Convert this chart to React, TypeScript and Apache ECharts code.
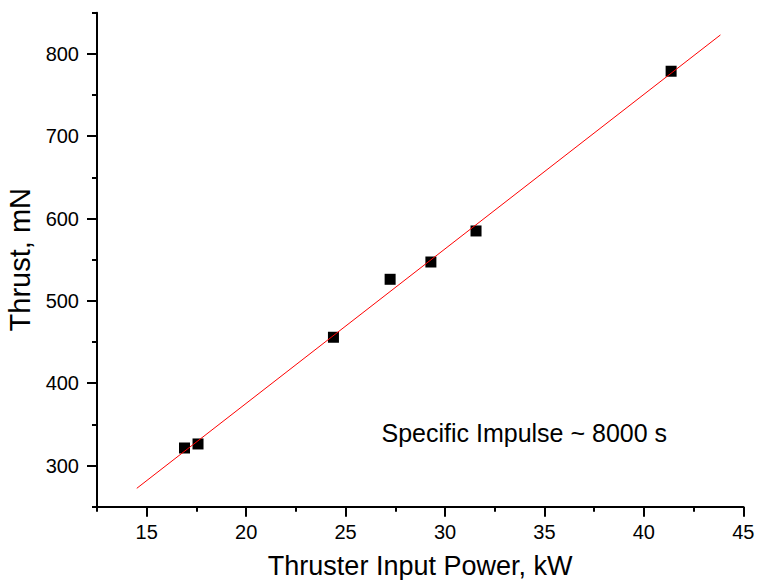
import React, { useEffect, useRef } from "react";
import * as echarts from "echarts";

const powerKW = [16.9, 17.58, 24.39, 27.24, 29.29, 31.56, 41.37];
const thrustMN = [321.3, 326.2, 455.8, 526.2, 547.2, 584.9, 778.9];
const fitX = [14.5, 43.85];
const fitY = [272.3, 823.0];
const xMajorTicks = [15, 20, 25, 30, 35, 40, 45];
const xMinorTicks = [12.5, 17.5, 22.5, 27.5, 32.5, 37.5, 42.5];
const yMajorTicks = [300, 400, 500, 600, 700, 800];
const yMinorTicks = [250, 350, 450, 550, 650, 750, 850];
const xTitle = "Thruster Input Power, kW";
const yTitle = "Thrust, mN";
const annotation = "Specific Impulse ~ 8000 s";

const FONT = "'Liberation Sans', Arial, sans-serif";

export default function App() {
  const ref = useRef<HTMLDivElement>(null);
  useEffect(() => {
    document.body.style.margin = "0";
    if (!ref.current) return;
    const chart = echarts.init(ref.current, null, { renderer: "svg" });
    const axisLine = { show: true, lineStyle: { color: "#000", width: 2 } };
    chart.setOption({
      animation: false,
      backgroundColor: "#fff",
      grid: { left: 97, right: 17.7, top: 12.7, bottom: 73.3, containLabel: false, outerBoundsMode: "none" },
      xAxis: [
        {
          type: "value",
          min: 12.5,
          max: 45,
          position: "bottom",
          axisLine,
          axisTick: { show: true, customValues: xMajorTicks, length: 10, lineStyle: { color: "#000", width: 2 } },
          axisLabel: { customValues: xMajorTicks, fontSize: 20, color: "#000", fontFamily: FONT, margin: 15 },
          splitLine: { show: false },
          name: xTitle,
          nameLocation: "middle",
          nameGap: 46,
          nameTextStyle: { fontSize: 27, color: "#000", fontFamily: FONT },
        },
        {
          type: "value",
          min: 12.5,
          max: 45,
          position: "bottom",
          axisLine: { show: false },
          axisTick: { show: true, customValues: xMinorTicks, length: 5, lineStyle: { color: "#000", width: 2 } },
          axisLabel: { show: false },
          splitLine: { show: false },
        },
      ],
      yAxis: [
        {
          type: "value",
          min: 250,
          max: 850,
          position: "left",
          axisLine,
          axisTick: { show: true, customValues: yMajorTicks, length: 10, lineStyle: { color: "#000", width: 2 } },
          axisLabel: { customValues: yMajorTicks, fontSize: 20, color: "#000", fontFamily: FONT, margin: 18 },
          splitLine: { show: false },
          name: yTitle,
          nameLocation: "middle",
          nameGap: 57,
          nameTextStyle: { fontSize: 29, color: "#000", fontFamily: FONT },
        },
        {
          type: "value",
          min: 250,
          max: 850,
          position: "left",
          axisLine: { show: false },
          axisTick: { show: true, customValues: yMinorTicks, length: 5, lineStyle: { color: "#000", width: 2 } },
          axisLabel: { show: false },
          splitLine: { show: false },
        },
      ],
      series: [
        {
          type: "line",
          xAxisIndex: 0,
          yAxisIndex: 0,
          data: fitX.map((x, i) => [x, fitY[i]]),
          symbol: "none",
          lineStyle: { color: "#ff0000", width: 1 },
          silent: true,
        },
        {
          type: "scatter",
          xAxisIndex: 0,
          yAxisIndex: 0,
          data: powerKW.map((x, i) => [x, thrustMN[i]]),
          symbol: "rect",
          symbolSize: 11,
          itemStyle: { color: "#000", opacity: 1 },
        },
      ],
      graphic: [
        {
          type: "text",
          left: 381.5,
          top: 420,
          style: { text: annotation, fontSize: 25, fill: "#000", fontFamily: FONT },
        },
      ],
    });
    return () => chart.dispose();
  }, []);
  return <div ref={ref} style={{ width: 761, height: 580 }} />;
}
